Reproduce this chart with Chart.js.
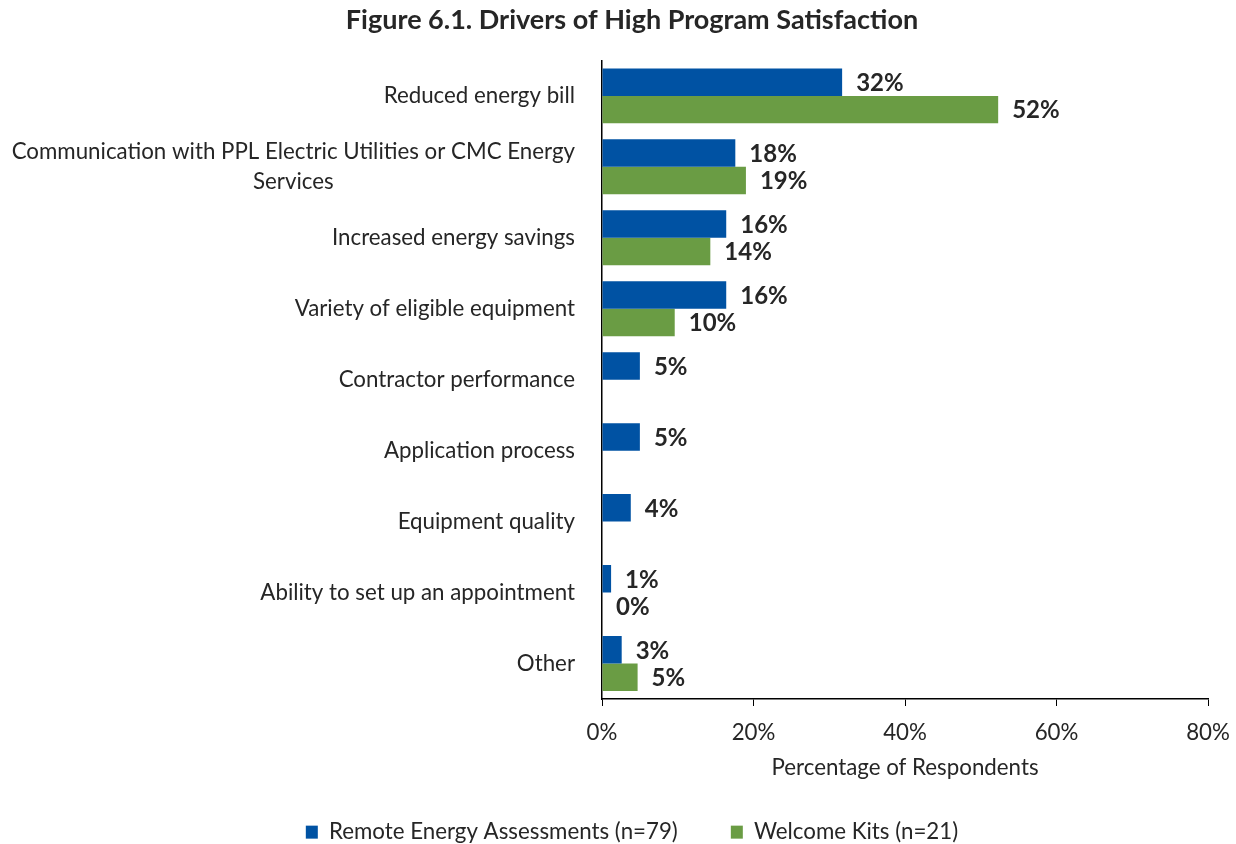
<!DOCTYPE html>
<html>
<head>
<meta charset="utf-8">
<script src="https://cdn.jsdelivr.net/npm/chart.js@4/dist/chart.umd.min.js"></script>
<style>
  html, body { margin: 0; padding: 0; background: #fff; }
  #wrap { width: 1236px; height: 844px; }
</style>
</head>
<body>
<div id="wrap"><canvas id="chart"></canvas></div>
<script>
const categories = [
    "Reduced energy bill",
    ["Communication with PPL Electric Utilities or CMC Energy", "Services"],
    "Increased energy savings",
    "Variety of eligible equipment",
    "Contractor performance",
    "Application process",
    "Equipment quality",
    "Ability to set up an appointment",
    "Other"
];
// bar lengths (percent)
const remoteValues = [31.7, 17.6, 16.4, 16.4, 5.0, 5.0, 3.8, 1.2, 2.6];
const welcomeValues = [52.3, 19.0, 14.3, 9.6, null, null, null, 0, 4.7];
// printed labels
const remoteLabels = ["32%", "18%", "16%", "16%", "5%", "5%", "4%", "1%", "3%"];
const welcomeLabels = ["52%", "19%", "14%", "10%", null, null, null, "0%", "5%"];
const xTicks = [0, 20, 40, 60, 80];

const TEXT = "#262626";
const FONT = "Lato, 'Open Sans', sans-serif";
const LABEL_SIZE = 22.3;

// Percentage next to the end of each bar
const barLabelPlugin = {
    id: 'barLabels',
    afterDatasetsDraw(chart) {
        const { ctx } = chart;
        const allLabels = [remoteLabels, welcomeLabels];
        ctx.save();
        ctx.font = `bold 24px ${FONT}`;
        ctx.fillStyle = TEXT;
        ctx.textAlign = 'left';
        ctx.textBaseline = 'middle';
        chart.data.datasets.forEach((ds, di) => {
            const meta = chart.getDatasetMeta(di);
            meta.data.forEach((bar, i) => {
                const txt = allLabels[di][i];
                if (txt == null) return;
                ctx.fillText(txt, bar.x + 14, bar.y + 1);
            });
        });
        ctx.restore();
    }
};

// Category labels: right edge against the axis, wrapped lines centred on each other
const categoryLabelPlugin = {
    id: 'categoryLabels',
    afterDraw(chart) {
        const { ctx } = chart;
        const y = chart.scales.y;
        const right = y.right - 27;
        const lineH = 30;
        ctx.save();
        ctx.font = `${LABEL_SIZE}px ${FONT}`;
        ctx.fillStyle = TEXT;
        ctx.textAlign = 'center';
        ctx.textBaseline = 'middle';
        chart.data.labels.forEach((lab, i) => {
            const lines = Array.isArray(lab) ? lab : [lab];
            const w = Math.max(...lines.map(l => ctx.measureText(l).width));
            const cx = right - w / 2;
            const cy = y.getPixelForTick(i);
            lines.forEach((l, k) => {
                ctx.fillText(l, cx, cy + (k - (lines.length - 1) / 2) * lineH);
            });
        });
        ctx.restore();
    }
};

new Chart(document.getElementById('chart'), {
    type: 'bar',
    data: {
        labels: categories,
        datasets: [
            {
                label: 'Remote Energy Assessments (n=79)',
                data: remoteValues,
                backgroundColor: '#0052A3',
                categoryPercentage: 0.775,
                barPercentage: 1.0
            },
            {
                label: 'Welcome Kits (n=21)',
                data: welcomeValues,
                backgroundColor: '#6A9C44',
                categoryPercentage: 0.775,
                barPercentage: 1.0
            }
        ]
    },
    options: {
        indexAxis: 'y',
        responsive: true,
        maintainAspectRatio: false,
        animation: false,
        layout: { padding: { left: 56, right: 28, top: 0, bottom: 0 } },
        plugins: {
            title: {
                display: true,
                text: 'Figure 6.1. Drivers of High Program Satisfaction',
                color: TEXT,
                font: { family: FONT, size: 27, weight: 'bold' },
                padding: { top: 4, bottom: 24 }
            },
            legend: {
                position: 'bottom',
                maxHeight: 76,
                labels: {
                    color: TEXT,
                    font: { family: FONT, size: LABEL_SIZE },
                    boxWidth: 12,
                    boxHeight: 13,
                    padding: 53
                }
            },
            tooltip: { enabled: false }
        },
        scales: {
            x: {
                min: 0,
                max: 80,
                afterBuildTicks: (scale) => {
                    scale.ticks = xTicks.map(v => ({ value: v }));
                },
                afterFit: (scale) => {
                    scale.height = 69;
                    scale.paddingRight = 0;
                },
                ticks: {
                    color: TEXT,
                    font: { family: FONT, size: LABEL_SIZE },
                    padding: 13,
                    callback: (v) => v + '%'
                },
                grid: {
                    drawOnChartArea: false,
                    drawTicks: true,
                    tickLength: 7,
                    color: '#000'
                },
                border: { color: '#000', width: 1.5 },
                title: {
                    display: true,
                    text: 'Percentage of Respondents',
                    color: TEXT,
                    font: { family: FONT, size: LABEL_SIZE },
                    padding: { top: 0, bottom: -13 }
                }
            },
            y: {
                afterFit: (scale) => { scale.width = 546; },
                ticks: { display: false },
                grid: { display: false, drawTicks: false },
                border: { color: '#000', width: 1.5 }
            }
        }
    },
    plugins: [barLabelPlugin, categoryLabelPlugin]
});
</script>
</body>
</html>
